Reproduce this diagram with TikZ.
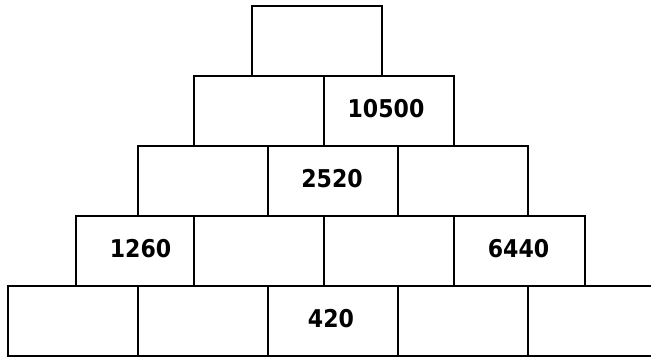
\documentclass[tikz,border=0pt]{standalone}
\usepackage{fontspec}
\setmainfont{DejaVu Sans Condensed}
\begin{document}
\begin{tikzpicture}[x=1pt,y=-1pt,
  brick/.style={draw=black,line width=1.6pt,rectangle,inner sep=0pt,
    minimum width=130pt,minimum height=70pt,anchor=center},
  numtext/.style={inner sep=0pt,font=\fontsize{24.5}{25}\selectfont\bfseries}]
\useasboundingbox (0,0) rectangle (651,358);
\clip (0,0) rectangle (651,358);
\fill[white] (0,0) rectangle (651,358);
% row 1
\node[brick] (r1a) at (317,41) {};
% row 2
\node[brick] (r2a) at (259,111) {};
\node[brick] (r2b) at (389,111) {};
% row 3
\node[brick] (r3a) at (203,181) {};
\node[brick] (r3b) at (333,181) {};
\node[brick] (r3c) at (463,181) {};
% row 4
\node[brick,minimum width=118pt] (r4a) at (135,251) {};
\node[brick] (r4b) at (259,251) {};
\node[brick] (r4c) at (389,251) {};
\node[brick,minimum width=131pt] (r4d) at (519.5,251) {};
% row 5
\node[brick] (r5a) at (73,321) {};
\node[brick] (r5b) at (203,321) {};
\node[brick] (r5c) at (333,321) {};
\node[brick] (r5d) at (463,321) {};
\node[brick] (r5e) at (593,321) {};
% numbers
\node[numtext] (n10500) at ([xshift=-3pt,yshift=2.5pt]r2b.center) {10500};
\node[numtext] (n2520) at ([xshift=-1pt,yshift=2pt]r3b.center) {2520};
\node[numtext] (n1260) at ([xshift=5.5pt,yshift=2pt]r4a.center) {1260};
\node[numtext] (n6440) at ([xshift=-1pt,yshift=2pt]r4d.center) {6440};
\node[numtext] (n420) at ([xshift=-2pt,yshift=2.5pt]r5c.center) {420};
\end{tikzpicture}
\end{document}
